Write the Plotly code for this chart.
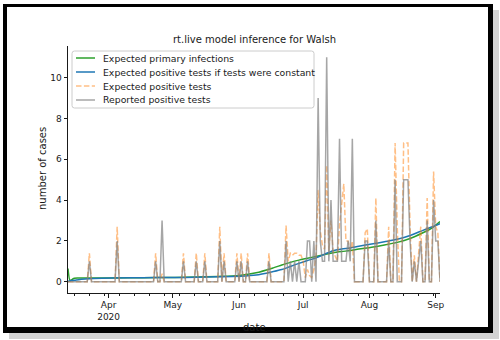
import pandas as pd
import plotly.graph_objects as go

# ---- data -----------------------------------------------------------------
START = "2020-03-13"

# daily reported positive tests, one row per week starting Mar 13
reported = [
    0, 0, 0, 0, 0, 0, 0,
    0, 0, 0, 1, 0, 0, 0,
    0, 0, 0, 0, 0, 0, 0,
    0, 0, 2, 0, 0, 0, 0,
    0, 0, 0, 0, 0, 0, 0,
    0, 0, 0, 0, 0, 0, 1,
    0, 0, 3, 0, 0, 0, 0,
    0, 0, 0, 0, 0, 1, 0,
    0, 0, 0, 0, 1, 0, 0,
    0, 1, 0, 0, 0, 0, 0,
    0, 2, 0, 1, 0, 0, 0,
    0, 0, 1, 0, 1, 0, 0,
    1, 0, 0, 0, 0, 0, 0,
    0, 0, 0, 1, 0, 0, 0,
    0, 0, 0, 0, 2, 0, 1,
    0, 1, 0, 1, 0, 0, 0,
    2, 2, 0, 2, 0, 9, 2,
    1, 1, 11, 1, 4, 1, 1,
    1, 7, 1, 1, 1, 2, 1,
    7, 0, 0, 0, 0, 0, 2,
    2, 0, 0, 0, 3, 0, 0,
    0, 0, 0, 2, 0, 0, 5,
    0, 0, 0, 5, 5, 5, 2,
    0, 1, 0, 1, 2, 0, 0,
    3, 0, 0, 4, 2, 2, 0,
]

# daily expected positive tests (model output)
expected = [
    0, 0, 0, 0, 0, 0, 0,
    0, 0, 0, 1.4, 0, 0, 0,
    0, 0, 0, 0, 0, 0, 0,
    0, 0, 2.7, 0, 0, 0, 0,
    0, 0, 0, 0, 0, 0, 0,
    0, 0, 0, 0, 0, 0, 1.4,
    0, 0, 0.4, 0, 0, 0, 0,
    0, 0, 0, 0, 0, 1.4, 0,
    0, 0, 0, 0, 1.4, 0, 0,
    0, 1.4, 0, 0, 0, 0, 0,
    0, 2.7, 0, 1.4, 0, 0, 0,
    0, 0, 1.4, 0, 1.4, 0, 0,
    1.4, 0, 0, 0, 0, 0, 0,
    0, 0, 0, 1.4, 0, 0, 0,
    0, 0, 0, 0, 2.75, 1.0, 1.4,
    1.3, 1.4, 1.4, 1.3, 1.3, 1.0, 0.2,
    0.6, 0.3, 0.2, 0.6, 1.2, 4.5, 2.5,
    1.8, 1.6, 5.7, 1.5, 3.0, 1.5, 1.2,
    1.0, 2.8, 4.0, 4.8, 2.0, 2.0, 1.5,
    2.0, 0, 0, 0, 0, 0, 2.4,
    2.6, 0, 0, 0, 4.1, 0, 0,
    0, 0, 0, 2.7, 0, 0, 6.8,
    2.7, 0, 0, 6.8, 6.8, 6.8, 2.7,
    0, 1.3, 0, 1.4, 2.7, 0, 0,
    4.1, 0, 0, 5.4, 2.7, 2.4, 0,
]

# smooth model curves, sampled at these day offsets from START
curve_days = [0, 1, 2, 3, 5, 8, 12, 20, 35, 50, 60, 70, 80, 88, 96, 100, 104,
              108, 112, 116, 120, 124, 128, 132, 136, 142, 148, 154, 160, 166,
              170, 174]
primary = [0.65, 0.05, 0.12, 0.17, 0.18, 0.19, 0.19, 0.19, 0.20, 0.21, 0.23,
           0.26, 0.31, 0.44, 0.68, 0.82, 0.95, 1.06, 1.15, 1.24, 1.33, 1.42,
           1.48, 1.53, 1.60, 1.69, 1.80, 1.93, 2.12, 2.40, 2.62, 2.95]
constant = [0.03, 0.05, 0.06, 0.07, 0.10, 0.13, 0.16, 0.19, 0.20, 0.21, 0.22,
            0.24, 0.27, 0.33, 0.50, 0.60, 0.75, 0.90, 1.04, 1.17, 1.35, 1.52,
            1.60, 1.66, 1.74, 1.85, 1.96, 2.08, 2.27, 2.52, 2.68, 2.85]

month_ticks = ["2020-04-01", "2020-05-01", "2020-06-01", "2020-07-01",
               "2020-08-01", "2020-09-01"]
month_labels = ["Apr<br>2020", "May", "Jun", "Jul", "Aug", "Sep"]
y_ticks = [0, 2, 4, 6, 8, 10]

series_names = ["Expected primary infections",
                "Expected positive tests if tests were constant",
                "Expected positive tests",
                "Reported positive tests"]

# ---- figure ---------------------------------------------------------------
W, H = 500, 340
L, R, T, B = 68, 60, 46, 47
PW, PH = W - L - R, H - T - B
FONT = "DejaVu Sans"
INK = "#1a1a1a"

GREEN = "#2ca02c"
BLUE = "#1f77b4"
ORANGE = "rgba(255,127,14,0.5)"
GREY = "rgba(128,128,128,0.7)"
DASH = "5.5px,2.4px"

dates = pd.date_range(START, periods=len(reported), freq="D")
curve_dates = pd.Timestamp(START) + pd.to_timedelta(curve_days, unit="D")

fig = go.Figure()
fig.add_trace(go.Scatter(x=curve_dates, y=primary, mode="lines",
                         name=series_names[0],
                         line=dict(color=GREEN, width=1.5, shape="spline",
                                   smoothing=0.8)))
fig.add_trace(go.Scatter(x=curve_dates, y=constant, mode="lines",
                         name=series_names[1],
                         line=dict(color=BLUE, width=1.5, shape="spline",
                                   smoothing=0.8)))
fig.add_trace(go.Scatter(x=dates, y=expected, mode="lines",
                         name=series_names[2],
                         line=dict(color=ORANGE, width=1.5, dash=DASH)))
fig.add_trace(go.Scatter(x=dates, y=reported, mode="lines",
                         name=series_names[3],
                         line=dict(color=GREY, width=1.5)))


def px(x):
    return (x - L) / PW


def py(y):
    return (T + PH - y) / PH


shapes = []
# framed card with drop shadow around the chart
shapes.append(dict(type="rect", xref="paper", yref="paper", layer="below",
                   x0=px(9), x1=px(499), y0=py(339), y1=py(10),
                   fillcolor="#d2d2d2", line=dict(width=0)))
shapes.append(dict(type="rect", xref="paper", yref="paper", layer="below",
                   x0=px(3), x1=px(493), y0=py(333), y1=py(4),
                   fillcolor="#000000", line=dict(width=0)))
shapes.append(dict(type="rect", xref="paper", yref="paper", layer="below",
                   x0=px(7), x1=px(488), y0=py(327), y1=py(7),
                   fillcolor="#ffffff", line=dict(width=0)))

# legend box with rounded corners
bx0, bx1, by0, by1, rr = 72, 314, 51, 108, 2.5
path = (f"M {px(bx0 + rr)},{py(by0)} L {px(bx1 - rr)},{py(by0)} "
        f"Q {px(bx1)},{py(by0)} {px(bx1)},{py(by0 + rr)} "
        f"L {px(bx1)},{py(by1 - rr)} "
        f"Q {px(bx1)},{py(by1)} {px(bx1 - rr)},{py(by1)} "
        f"L {px(bx0 + rr)},{py(by1)} "
        f"Q {px(bx0)},{py(by1)} {px(bx0)},{py(by1 - rr)} "
        f"L {px(bx0)},{py(by0 + rr)} "
        f"Q {px(bx0)},{py(by0)} {px(bx0 + rr)},{py(by0)} Z")
shapes.append(dict(type="path", xref="paper", yref="paper", layer="above",
                   path=path, fillcolor="rgba(255,255,255,0.8)",
                   line=dict(color="#cccccc", width=1)))

legend_rows = [58, 72, 86, 100]
legend_styles = [dict(color=GREEN, width=1.5),
                 dict(color=BLUE, width=1.5),
                 dict(color=ORANGE, width=1.5, dash=DASH),
                 dict(color=GREY, width=1.5)]
for yy, st in zip(legend_rows, legend_styles):
    shapes.append(dict(type="line", xref="paper", yref="paper", layer="above",
                       x0=px(76), x1=px(95), y0=py(yy), y1=py(yy), line=st))

annotations = [
    dict(text="rt.live model inference for Walsh", x=px(254), y=py(39.5),
         xanchor="center", yanchor="middle", font=dict(size=10)),
    dict(text="number of cases", x=px(42), y=py(169), textangle=-90,
         xanchor="center", yanchor="middle", font=dict(size=10)),
    dict(text="date", x=px(254), y=py(327.5), xanchor="center",
         yanchor="middle", font=dict(size=10)),
]
for yy, name in zip(legend_rows, series_names):
    annotations.append(dict(text=name, x=px(102), y=py(yy), xanchor="left",
                            yanchor="middle", font=dict(size=9.3)))
for a in annotations:
    a.update(xref="paper", yref="paper", showarrow=False, borderpad=0)
    a["font"].update(family=FONT, color=INK)

axis_common = dict(showline=True, linecolor=INK, linewidth=1, mirror=False,
                   ticks="outside", ticklen=3.5, tickwidth=1, tickcolor=INK,
                   showgrid=False, zeroline=False,
                   tickfont=dict(family=FONT, size=9, color=INK))

fig.update_layout(
    width=W, height=H,
    margin=dict(l=L, r=R, t=T, b=B),
    paper_bgcolor="#ffffff",
    plot_bgcolor="rgba(0,0,0,0)",
    showlegend=False,
    shapes=shapes,
    annotations=annotations,
    xaxis=dict(range=[dates[0], dates[-1]], tickmode="array",
               tickvals=month_ticks, ticktext=month_labels,
               minor=dict(ticks="outside", ticklen=2, tickwidth=1,
                          tickcolor=INK, tick0="2020-03-16",
                          dtick=7 * 86400000, showgrid=False),
               **axis_common),
    yaxis=dict(range=[-0.55, 11.55], tickmode="array", tickvals=y_ticks,
               **axis_common),
)

fig.write_html("out.html")
